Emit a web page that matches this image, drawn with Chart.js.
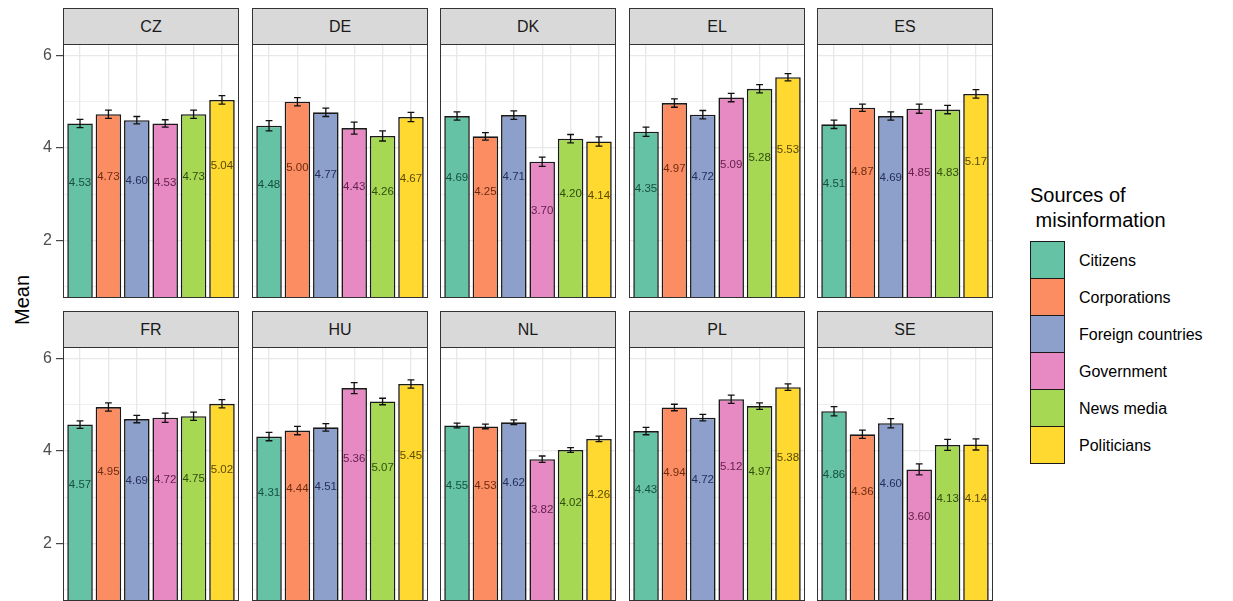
<!DOCTYPE html>
<html>
<head>
<meta charset="utf-8">
<script src="https://cdn.jsdelivr.net/npm/chart.js@4.4.1/dist/chart.umd.min.js"></script>
<style>
  body { margin: 0; width: 1233px; height: 601px; overflow: hidden; background: #fff;
         position: relative; font-family: "Liberation Sans", Arial, sans-serif; }
  .strip { position: absolute; box-sizing: border-box; height: 37px; background: #D9D9D9;
           border: 1px solid #333; color: #1A1A1A; font-size: 16px; text-align: center; line-height: 35px; }
  .panel { position: absolute; height: 254px; }
  #ytitle { position: absolute; left: 22px; top: 300px; transform: translate(-50%, -50%) rotate(-90deg);
            font-size: 20px; color: #000; white-space: nowrap; }
  #legend { position: absolute; left: 1030px; top: 183px; }
  #legend .title { font-size: 20px; line-height: 25px; color: #000; white-space: pre; margin-bottom: 9px; }
  #legend .row { display: flex; align-items: center; height: 37px; }
  #legend .key { width: 35px; height: 38px; box-sizing: border-box; border: 1.8px solid #1a1a1a; margin-top: -1px; }
  #legend .lab { font-size: 16px; color: #000; margin-left: 14px; }
</style>
</head>
<body>
<div id="ytitle">Mean</div>
<div id="legend"></div>
<script>
// facets, bars and tick labels
const countries = ["CZ", "DE", "DK", "EL", "ES", "FR", "HU", "NL", "PL", "SE"];
const sources = ["Citizens", "Corporations", "Foreign countries", "Government", "News media", "Politicians"];
const yTicks = [1, 2, 3, 4, 5, 6];
const yTickLabels = ["", "2", "", "4", "", "6"];

// means per country (order = sources)
const CZ = [4.53, 4.73, 4.60, 4.53, 4.73, 5.04];
const DE = [4.48, 5.00, 4.77, 4.43, 4.26, 4.67];
const DK = [4.69, 4.25, 4.71, 3.70, 4.20, 4.14];
const EL = [4.35, 4.97, 4.72, 5.09, 5.28, 5.53];
const ES = [4.51, 4.87, 4.69, 4.85, 4.83, 5.17];
const FR = [4.57, 4.95, 4.69, 4.72, 4.75, 5.02];
const HU = [4.31, 4.44, 4.51, 5.36, 5.07, 5.45];
const NL = [4.55, 4.53, 4.62, 3.82, 4.02, 4.26];
const PL = [4.43, 4.94, 4.72, 5.12, 4.97, 5.38];
const SE = [4.86, 4.36, 4.60, 3.60, 4.13, 4.14];

// error bar half widths
const errCZ = [0.09, 0.09, 0.08, 0.08, 0.09, 0.09];
const errDE = [0.11, 0.09, 0.09, 0.13, 0.11, 0.10];
const errDK = [0.09, 0.08, 0.09, 0.10, 0.09, 0.10];
const errEL = [0.10, 0.09, 0.09, 0.09, 0.09, 0.08];
const errES = [0.09, 0.08, 0.09, 0.10, 0.09, 0.09];
const errFR = [0.08, 0.09, 0.08, 0.10, 0.09, 0.09];
const errHU = [0.09, 0.09, 0.08, 0.12, 0.07, 0.09];
const errNL = [0.05, 0.05, 0.05, 0.07, 0.05, 0.06];
const errPL = [0.08, 0.07, 0.07, 0.09, 0.07, 0.07];
const errSE = [0.10, 0.09, 0.10, 0.12, 0.12, 0.12];

const means = [CZ, DE, DK, EL, ES, FR, HU, NL, PL, SE];
const errors = [errCZ, errDE, errDK, errEL, errES, errFR, errHU, errNL, errPL, errSE];

const fills = ["#66C2A5", "#FC8D62", "#8DA0CB", "#E78AC3", "#A6D854", "#FFD92F"];
const labelColors = ["#14503D", "#6E2A10", "#222F58", "#64204D", "#2F4C0C", "#5A4A04"];

// page layout
const colX = [63, 252, 440, 629, 817];
const stripTop = [8, 311];
const panelW = 176;
const axisW = 30;
const FONT = "'Liberation Sans', Arial, sans-serif";

// legend
const legend = document.getElementById("legend");
legend.innerHTML = `<div class="title">Sources of\n misinformation</div>` +
  sources.map((s, i) => `<div class="row"><div class="key" style="background:${fills[i]}"></div><div class="lab">${s}</div></div>`).join("");

/**
 * whiskers, value labels and the panel frame
 */
const panelExtras = {
  id: "panelExtras",
  afterDatasetsDraw(chart, args, opts) {
    const ctx = chart.ctx;
    const xs = chart.scales.x, ys = chart.scales.y;
    const vals = opts.values, errs = opts.errors;
    const cap = xs.getPixelForValue(1.12) - xs.getPixelForValue(1);
    ctx.save();
    ctx.strokeStyle = "#111";
    ctx.lineWidth = 1.3;
    vals.forEach((v, i) => {
      const x = xs.getPixelForValue(i + 1);
      const yt = ys.getPixelForValue(v + errs[i]);
      const yb = ys.getPixelForValue(v - errs[i]);
      ctx.beginPath();
      ctx.moveTo(x, yt); ctx.lineTo(x, yb);
      ctx.moveTo(x - cap, yt); ctx.lineTo(x + cap, yt);
      ctx.moveTo(x - cap, yb); ctx.lineTo(x + cap, yb);
      ctx.stroke();
    });
    ctx.font = "11.5px " + FONT;
    ctx.textAlign = "center";
    ctx.textBaseline = "middle";
    vals.forEach((v, i) => {
      ctx.fillStyle = labelColors[i];
      ctx.fillText(v.toFixed(2), xs.getPixelForValue(i + 1), ys.getPixelForValue(v * 0.715));
    });
    ctx.restore();
  },
  afterDraw(chart) {
    const a = chart.chartArea, ctx = chart.ctx;
    ctx.save();
    ctx.strokeStyle = "#333";
    ctx.lineWidth = 1;
    ctx.strokeRect(a.left + 0.5, a.top + 0.5, a.right - a.left - 1, a.bottom - a.top - 1);
    ctx.restore();
  }
};

function buildPanel(idx) {
  const row = Math.floor(idx / 5), col = idx % 5;
  const first = col === 0;

  const strip = document.createElement("div");
  strip.className = "strip";
  strip.style.left = colX[col] + "px";
  strip.style.top = stripTop[row] + "px";
  strip.style.width = panelW + "px";
  strip.textContent = countries[idx];
  document.body.appendChild(strip);

  const wrap = document.createElement("div");
  wrap.className = "panel";
  wrap.style.left = (first ? colX[col] - axisW : colX[col]) + "px";
  wrap.style.top = (stripTop[row] + 36) + "px";
  wrap.style.width = (first ? panelW + axisW : panelW) + "px";
  const canvas = document.createElement("canvas");
  wrap.appendChild(canvas);
  document.body.appendChild(wrap);

  const vals = means[idx];
  new Chart(canvas, {
    type: "bar",
    data: {
      datasets: [{
        data: vals.map((v, i) => ({ x: i + 1, y: v })),
        backgroundColor: fills,
        borderColor: "#1a1a1a",
        borderWidth: 1.6,
        barPercentage: 0.9,
        categoryPercentage: 1,
        clip: 0,
      }],
    },
    options: {
      responsive: true,
      maintainAspectRatio: false,
      animation: false,
      events: [],
      layout: { padding: 0 },
      plugins: {
        legend: { display: false },
        tooltip: { enabled: false },
        panelExtras: { values: vals, errors: errors[idx] },
      },
      scales: {
        x: {
          type: "linear",
          offset: false,
          min: 0.4,
          max: 6.6,
          afterBuildTicks: (s) => { s.ticks = sources.map((_, i) => ({ value: i + 1 })); },
          ticks: { display: false },
          grid: { color: "#E8E8E8", lineWidth: 1.3, drawTicks: false, offset: false },
          border: { display: false },
          afterFit: (s) => { s.height = 0; s.paddingLeft = s.paddingRight = 0; },
        },
        y: {
          min: 0.75,
          max: 6.25,
          afterBuildTicks: (s) => { s.ticks = yTicks.map((v) => ({ value: v })); },
          ticks: {
            display: first,
            padding: 4,
            color: "#4D4D4D",
            font: { family: FONT, size: 16 },
            callback: (v) => yTickLabels[yTicks.indexOf(v)],
          },
          grid: {
            color: "#E8E8E8",
            lineWidth: (c) => (c.tick && c.tick.value % 2 === 0 ? 1.3 : 0.7),
            drawTicks: first,
            tickLength: 7,
            tickWidth: 1.1,
            tickColor: (c) => (c.tick && c.tick.value % 2 === 0 ? "#333" : "rgba(0,0,0,0)"),
          },
          border: { display: false },
          afterFit: (s) => { s.width = first ? axisW : 0; s.paddingTop = s.paddingBottom = 0; },
        },
      },
    },
    plugins: [panelExtras],
  });
}

countries.forEach((_, i) => buildPanel(i));
</script>
</body>
</html>
